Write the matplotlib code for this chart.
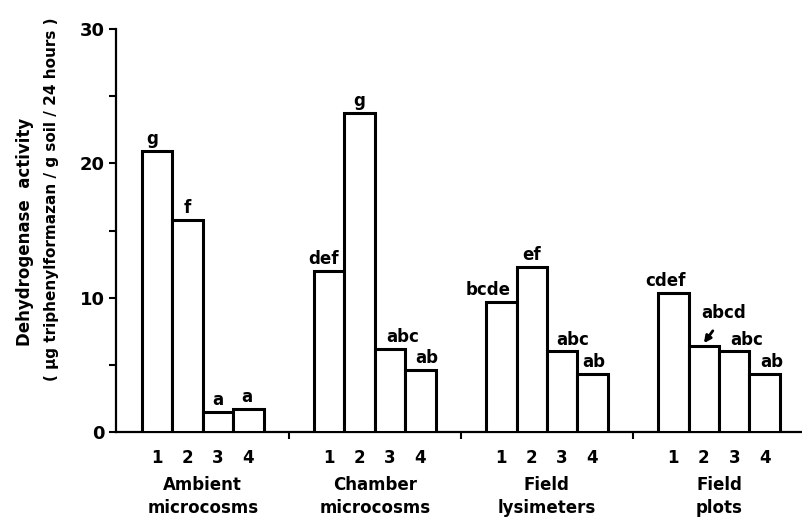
import numpy as np
import matplotlib
matplotlib.use("Agg")
import matplotlib.pyplot as plt

# Dehydrogenase activity per treatment (1-4) for each test system
GROUPS = ["Ambient\nmicrocosms", "Chamber\nmicrocosms", "Field\nlysimeters", "Field\nplots"]
TREATMENTS = ["1", "2", "3", "4"]
AMBIENT = [20.9, 15.8, 1.5, 1.7]
CHAMBER = [12.0, 23.75, 6.2, 4.6]
LYSIMETERS = [9.7, 12.3, 6.0, 4.3]
PLOTS = [10.35, 6.4, 6.0, 4.3]
LETTERS = [
    ["g", "f", "a", "a"],
    ["def", "g", "abc", "ab"],
    ["bcde", "ef", "abc", "ab"],
    ["cdef", "abcd", "abc", "ab"],
]
# horizontal nudges of the significance letters (bar widths)
NUDGE = [
    [-0.15, 0.0, 0.0, -0.05],
    [-0.2, 0.0, 0.4, 0.2],
    [-0.45, 0.0, 0.35, 0.05],
    [-0.25, 0.65, 0.4, 0.25],
]

GROUP_STEP = 5.66
FONT = "DejaVu Sans"

values = [AMBIENT, CHAMBER, LYSIMETERS, PLOTS]

fig = plt.figure(figsize=(8.02, 5.24), dpi=100)
ax = fig.add_axes([0.1446, 0.1756, 0.8554, 0.769])

for g, vals in enumerate(values):
    x = g * GROUP_STEP + np.arange(len(vals))
    ax.bar(x, vals, width=1.0, color="white", edgecolor="black",
           linewidth=2.2, zorder=3)
    for i, (xi, v) in enumerate(zip(x, vals)):
        lab = LETTERS[g][i]
        if lab == "abcd":
            # letter set sits above, arrow points down onto the bar
            ax.annotate("", xy=(xi - 0.05, v + 0.05), xytext=(xi + 0.35, v + 1.3),
                        arrowprops=dict(arrowstyle="-|>", color="black", lw=2.0,
                                        mutation_scale=10), zorder=4)
            ax.text(xi + NUDGE[g][i], v + 1.8, lab, ha="center", va="bottom",
                    fontsize=12, fontweight="bold", family=FONT)
        else:
            ax.annotate(lab, xy=(xi + NUDGE[g][i], v), xytext=(0, 2),
                        textcoords="offset points", ha="center", va="bottom",
                        fontsize=12, fontweight="bold", family=FONT)
    # group name under the treatment numbers
    ax.annotate(GROUPS[g], xy=(x.mean(), 0), xycoords=("data", "axes fraction"),
                xytext=(0, -32), textcoords="offset points", ha="center", va="top",
                fontsize=12, fontweight="bold", family=FONT, linespacing=1.3)

centers = np.concatenate([g * GROUP_STEP + np.arange(4) for g in range(4)])
ax.set_xticks(centers)
ax.set_xticklabels(TREATMENTS * 4, fontsize=12, fontweight="bold", family=FONT)
ax.tick_params(axis="x", length=0, pad=12)

# small separator marks between the groups
seps = [g * GROUP_STEP + 4.33 for g in range(3)]
ax.set_xticks(seps, minor=True)
ax.tick_params(axis="x", which="minor", length=5, width=1.5, direction="out")

ax.set_ylim(0, 30)
ax.set_yticks([0, 10, 20, 30])
ax.set_yticks([5, 15, 25], minor=True)
ax.set_yticklabels(["0", "10", "20", "30"], fontsize=13, fontweight="bold", family=FONT)
ax.tick_params(axis="y", which="both", length=5, width=1.5, direction="out", pad=3)

ax.set_xlim(-1.355, 21.21)
for s in ["top", "right"]:
    ax.spines[s].set_visible(False)
ax.spines["left"].set_linewidth(1.6)
ax.spines["bottom"].set_linewidth(1.6)

fig.text(0.031, 0.557, "Dehydrogenase  activity", rotation=90, ha="center", va="center",
         fontsize=12, fontweight="bold", family=FONT)
fig.text(0.064, 0.62, "( \u00b5g triphenylformazan / g soil / 24 hours )", rotation=90,
         ha="center", va="center", fontsize=11, fontweight="bold", family=FONT)

fig.savefig("out.png", dpi=100)
